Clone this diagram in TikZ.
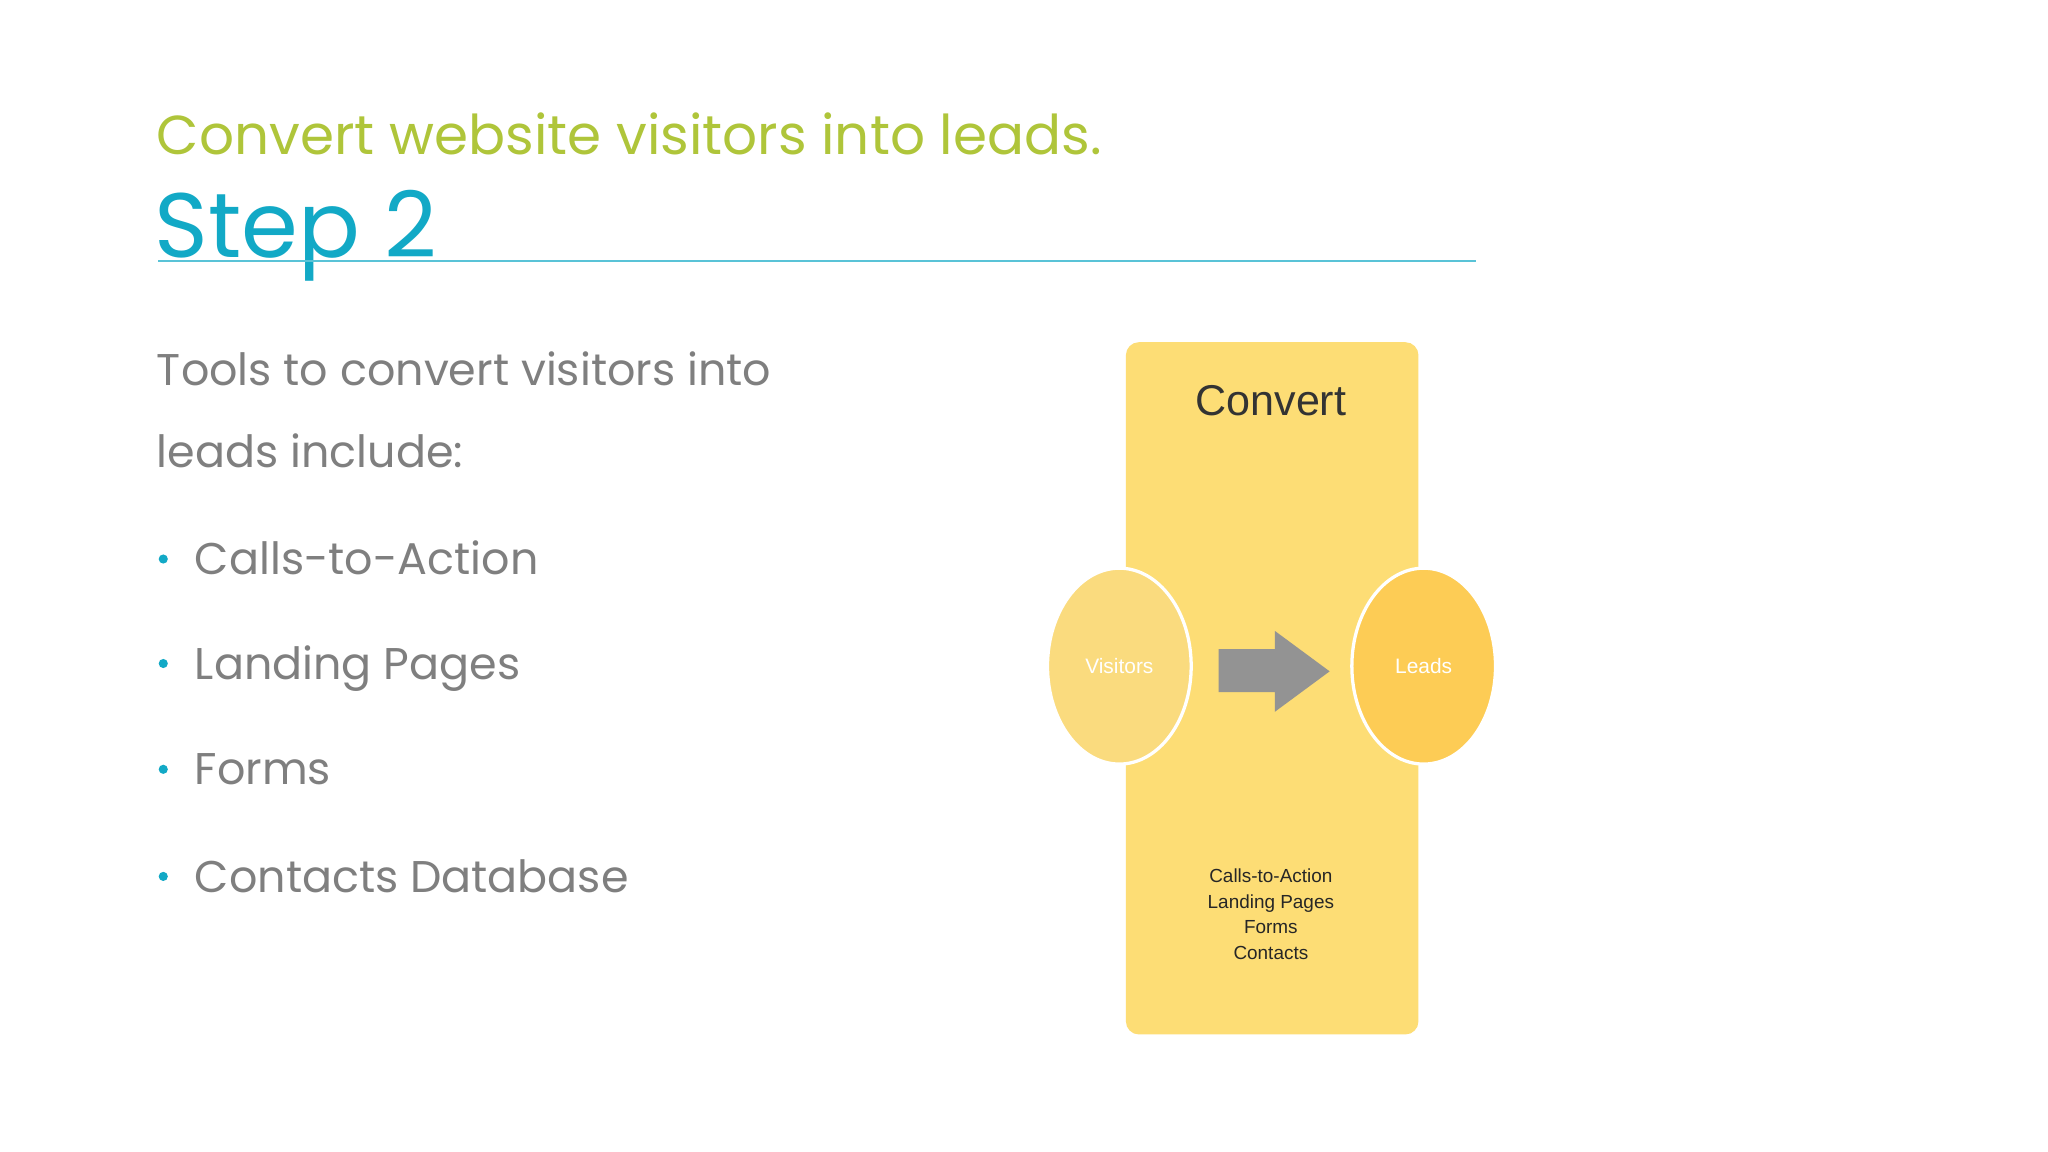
\documentclass[tikz,border=0pt]{standalone}
\usepackage{fontspec}
\usetikzlibrary{shapes.geometric}
\setmainfont{Poppins}
\newfontfamily\diag{Liberation Sans}
\definecolor{tgreen}{HTML}{AFC53A}
\definecolor{tteal}{HTML}{12A9C6}
\definecolor{tgray}{HTML}{7F7F7F}
\definecolor{byel}{HTML}{FDDD75}
\definecolor{vyel}{HTML}{FADB7E}
\definecolor{lyel}{HTML}{FDCC55}
\definecolor{agray}{HTML}{939393}
\begin{document}
\begin{tikzpicture}[x=1pt,y=-1pt,
  body/.style={anchor=base west,inner sep=0,text=tgray,font=\fontsize{34}{40}\selectfont},
  bul/.style={circle,fill=tteal,inner sep=0,minimum size=7pt},
  oval/.style={ellipse,draw=white,line width=2.5pt,minimum width=110pt,minimum height=150pt,text=white,font=\diag\fontsize{16}{18}\selectfont},
  small/.style={font=\diag\fontsize{14.5}{19.5}\selectfont,text=black!85,align=center}]
\useasboundingbox (0,0) rectangle (1568,882);
\fill[white] (0,0) rectangle (1568,882);
\node[anchor=base west,inner sep=0,text=tgreen,font=\fontsize{42}{48}\selectfont] (t1) at (120,118) {Convert website visitors into leads.};
\node[anchor=base west,inner sep=0,text=tteal,font=\fontsize{70}{80}\selectfont] (t2) at (118,197) {Step 2};
\draw[tteal!70,line width=1.2pt] (121,200) -- (1130,200);
\node[body] (p1) at (120,295) {Tools to convert visitors into};
\node[body] (p2) at (120,358) {leads include:};
\foreach \y/\t [count=\i] in {440/Calls-to-Action,520/Landing Pages,601/Forms,683/Contacts Database}{
  \node[bul] (b\i) at (125,\y-12) {};
  \node[body] (l\i) at (149,\y) {\t};
}
\fill[byel,rounded corners=10pt] (862,262) rectangle (1086,792);
\node[font=\diag\fontsize{33}{36}\selectfont,text=black!80] (conv) at (973,307) {Convert};
\node[oval,fill=vyel] (vis) at (857,510) {Visitors};
\node[oval,fill=lyel] (lead) at (1090,510) {Leads};
\fill[agray] (933,497) -- (976,497) -- (976,483) -- (1018,514) -- (976,545) -- (976,530) -- (933,530) -- cycle;
\node[small] (list) at (973,700) {Calls-to-Action\\Landing Pages\\Forms\\Contacts};
\end{tikzpicture}
\end{document}
